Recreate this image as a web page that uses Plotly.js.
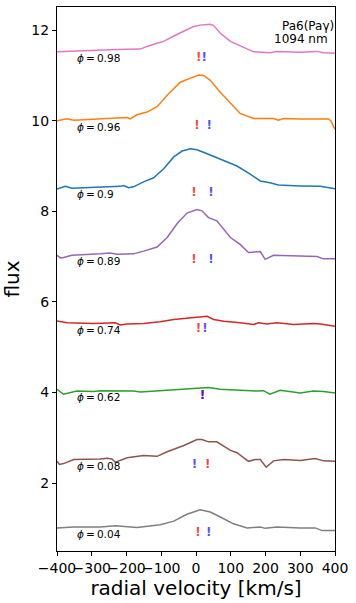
<!DOCTYPE html>
<html>
<head>
<meta charset="utf-8">
<script src="https://cdn.plot.ly/plotly-3.0.1.min.js"></script>
<style>
  html, body { margin: 0; padding: 0; background: #fff; }
  #chart { width: 356px; height: 603px; }
</style>
</head>
<body>
<div id="chart"></div>
<script>
// --- Data: radial velocity (km/s) and flux per phase ---
const v098 = [-400, -342, -275, -227, -160, -141, -112, -93, -64, -36, -7, 12, 41, 51, 70, 99, 127, 166, 213, 233, 300, 348, 367, 400];
const f098 = [11.52, 11.54, 11.56, 11.57, 11.58, 11.64, 11.71, 11.75, 11.87, 11.98, 12.08, 12.11, 12.13, 12.10, 11.93, 11.75, 11.66, 11.52, 11.50, 11.53, 11.51, 11.53, 11.50, 11.49];

const v096 = [-400, -371, -352, -275, -198, -189, -170, -141, -112, -83, -45, -16, 8, 22, 41, 70, 98, 127, 166, 204, 223, 237, 252, 300, 381, 388, 400];
const f096 = [10.00, 10.04, 10.01, 10.04, 10.07, 10.04, 10.13, 10.19, 10.31, 10.56, 10.85, 10.94, 11.01, 11.00, 10.89, 10.63, 10.39, 10.16, 10.05, 10.04, 10.05, 10.01, 10.05, 10.04, 10.04, 10.00, 9.81];

const v090 = [-400, -376, -357, -295, -218, -208, -194, -180, -151, -122, -93, -64, -40, -16, 3, 32, 70, 118, 156, 185, 213, 237, 300, 358, 400];
const f090 = [8.49, 8.55, 8.51, 8.53, 8.55, 8.57, 8.52, 8.54, 8.65, 8.74, 8.94, 9.20, 9.33, 9.38, 9.36, 9.27, 9.15, 9.00, 8.82, 8.67, 8.63, 8.58, 8.56, 8.55, 8.50];

const v089 = [-400, -390, -381, -357, -275, -247, -227, -180, -151, -112, -83, -54, -26, 3, 17, 36, 60, 99, 127, 151, 185, 199, 223, 300, 348, 367, 400];
const f089 = [7.03, 6.97, 6.98, 7.03, 7.06, 7.08, 7.05, 7.06, 7.12, 7.21, 7.42, 7.73, 7.96, 8.04, 8.01, 7.86, 7.79, 7.42, 7.27, 7.09, 7.11, 6.94, 7.03, 7.01, 7.00, 6.95, 6.95];

const v074 = [-400, -371, -295, -232, -218, -198, -151, -103, -64, -16, 32, 51, 80, 127, 166, 180, 204, 233, 281, 338, 358, 400];
const f074 = [5.58, 5.54, 5.52, 5.54, 5.49, 5.51, 5.52, 5.56, 5.61, 5.65, 5.68, 5.61, 5.57, 5.54, 5.50, 5.54, 5.51, 5.54, 5.50, 5.52, 5.51, 5.46];

const v062 = [-400, -381, -343, -295, -275, -180, -160, -83, -16, 12, 36, 70, 127, 175, 194, 213, 242, 281, 300, 338, 367, 400];
const f062 = [4.07, 3.96, 4.03, 4.02, 4.04, 4.03, 4.01, 4.05, 4.09, 4.09, 4.11, 4.07, 4.04, 4.03, 4.04, 3.96, 4.05, 4.01, 3.99, 4.03, 4.02, 3.99];

const v008 = [-400, -393, -381, -352, -275, -256, -242, -232, -198, -151, -112, -83, -35, 3, 17, 36, 60, 99, 118, 151, 170, 185, 202, 223, 252, 300, 343, 367, 400];
const f008 = [2.48, 2.41, 2.43, 2.52, 2.53, 2.55, 2.53, 2.46, 2.56, 2.61, 2.59, 2.69, 2.83, 2.96, 2.96, 2.91, 2.91, 2.72, 2.67, 2.48, 2.52, 2.52, 2.35, 2.49, 2.52, 2.50, 2.54, 2.49, 2.48];

const v004 = [-400, -352, -275, -232, -170, -103, -64, -26, 12, 41, 70, 108, 147, 185, 199, 233, 300, 343, 363, 400];
const f004 = [1.01, 1.03, 1.03, 1.06, 1.02, 1.08, 1.16, 1.31, 1.41, 1.36, 1.25, 1.10, 1.01, 1.03, 1.00, 1.03, 1.01, 1.01, 0.95, 0.95];

// --- Phase labels and velocity markers ---
const phases = ['0.98', '0.96', '0.9', '0.89', '0.74', '0.62', '0.08', '0.04'];
const labelY = [11.38, 9.85, 8.39, 6.90, 5.39, 3.89, 2.38, 0.87];
const markY = [11.39, 9.89, 8.41, 6.92, 5.40, 3.92, 2.405, 0.895];
const markRed = [8, 3, -6, -6, 7, 19, 34, 6];
const markBlue = [24, 38, 43, 43, 26, 19, -4, 37];

const series = [
  { v: v098, f: f098, color: '#e377c2' },
  { v: v096, f: f096, color: '#ff7f0e' },
  { v: v090, f: f090, color: '#1f77b4' },
  { v: v089, f: f089, color: '#9467bd' },
  { v: v074, f: f074, color: '#d62728' },
  { v: v062, f: f062, color: '#2ca02c' },
  { v: v008, f: f008, color: '#8c564b' },
  { v: v004, f: f004, color: '#7f7f7f' }
];

const traces = series.map(s => ({
  x: s.v,
  y: s.f,
  type: 'scatter',
  mode: 'lines',
  line: { color: s.color, width: 1.5 },
  hoverinfo: 'skip'
}));

// "!" markers: red then blue on top
const markFont = { family: 'DejaVu Sans', size: 12 };
traces.push({
  x: markRed, y: markY, type: 'scatter', mode: 'text',
  text: markRed.map(() => '<b>!</b>'),
  textfont: Object.assign({ color: 'rgba(255,0,0,0.75)' }, markFont),
  hoverinfo: 'skip'
});
traces.push({
  x: markBlue, y: markY, type: 'scatter', mode: 'text',
  text: markBlue.map(() => '<b>!</b>'),
  textfont: Object.assign({ color: 'rgba(0,0,255,0.7)' }, markFont),
  hoverinfo: 'skip'
});

const annotations = phases.map((p, i) => ({
  x: -347, y: labelY[i], xref: 'x', yref: 'y',
  xanchor: 'left', yanchor: 'middle',
  text: '<i>ϕ</i>\u2009=\u2009' + p, showarrow: false,
  font: { family: 'DejaVu Sans', size: 10.5, color: '#000' }
}));
annotations.push({
  x: 1, y: 12.09, xref: 'paper', yref: 'y', xanchor: 'right', yanchor: 'middle',
  text: 'Pa6(Paγ)', showarrow: false, xshift: 1,
  font: { family: 'DejaVu Sans', size: 12, color: '#000' }
});
annotations.push({
  x: 1, y: 11.80, xref: 'paper', yref: 'y', xanchor: 'right', yanchor: 'middle',
  text: '1094 nm', showarrow: false, xshift: -5,
  font: { family: 'DejaVu Sans', size: 12, color: '#000' }
});

const layout = {
  width: 356,
  height: 603,
  margin: { l: 56.5, r: 21, t: 7, b: 52.3 },
  paper_bgcolor: '#fff',
  plot_bgcolor: '#fff',
  showlegend: false,
  font: { family: 'DejaVu Sans', color: '#000' },
  xaxis: {
    range: [-400, 400],
    tickvals: [-400, -300, -200, -100, 0, 100, 200, 300, 400],
    tickangle: 0,
    ticks: 'outside', ticklen: 4, tickcolor: '#000',
    tickfont: { size: 14 },
    showline: true, mirror: true, linecolor: '#000', linewidth: 1,
    showgrid: false, zeroline: false,
    title: { text: 'radial velocity [km/s]', font: { size: 20 }, standoff: 6 }
  },
  yaxis: {
    range: [0.5, 12.51],
    tickvals: [2, 4, 6, 8, 10, 12],
    ticks: 'outside', ticklen: 4, tickcolor: '#000',
    tickfont: { size: 14 },
    showline: true, mirror: true, linecolor: '#000', linewidth: 1,
    showgrid: false, zeroline: false,
    title: { text: 'flux', font: { size: 20 }, standoff: 10 }
  },
  annotations: annotations
};

Plotly.newPlot('chart', traces, layout, { displayModeBar: false, staticPlot: true });
</script>
</body>
</html>
